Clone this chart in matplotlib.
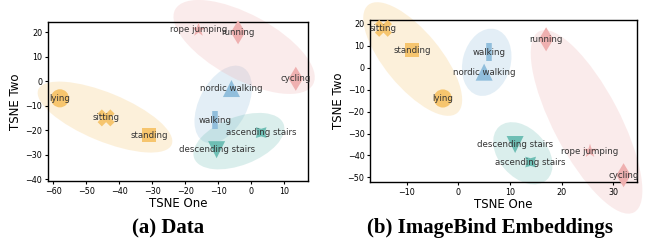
import numpy as np
import matplotlib
matplotlib.use("Agg")
import matplotlib.pyplot as plt
from matplotlib.patches import Ellipse
from matplotlib.transforms import IdentityTransform

# activities, groups and markers (same for both panels)
activities = ["lying", "sitting", "standing", "walking", "nordic walking",
              "ascending stairs", "descending stairs",
              "running", "rope jumping", "cycling"]
groups = ["static", "static", "static", "walk", "walk",
          "stairs", "stairs", "active", "active", "active"]
markers = ["o", "X", "s", "|", "^", (4, 1, 45), "v", "d", "*", "d"]
msizes = [170, 150, 95, 170, 150, 120, 150, 150, 110, 150]

# tsne coordinates
data_x = [-58, -44, -31, -11, -6, 3, -10.5, -4, -16, 13.5]
data_y = [-7, -15, -22, -16, -3, -21, -28, 20, 21, 1]
emb_x = [-3, -14.5, -9, 6, 5, 14, 11, 17, 25.5, 32]
emb_y = [-14, 18, 8, 7, -2, -43, -35, 13, -38, -49]

group_colors = {"static": "#f6c56e", "walk": "#91bedc",
                "stairs": "#6ebeb4", "active": "#efb0b0"}

W, H = 654, 245
fig = plt.figure(figsize=(W / 100, H / 100), dpi=100)


def panel(rect, xs, ys, xlim, ylim, xticks, yticks):
    ax = fig.add_axes(rect)
    ax.set_xlim(*xlim)
    ax.set_ylim(*ylim)
    ax.set_xticks(xticks)
    ax.set_yticks(yticks)
    ax.tick_params(labelsize=5.8, length=2.5, width=0.8, pad=1.5)
    for s in ax.spines.values():
        s.set_linewidth(1.0)
    ax.set_xlabel("TSNE One", fontsize=8.5, labelpad=1)
    ax.set_ylabel("TSNE Two", fontsize=8.5, labelpad=2)

    # cluster ellipses, built in pixel space around each group's points
    pts = ax.transData.transform(np.column_stack([xs, ys]))
    for g, col in group_colors.items():
        idx = [i for i, gg in enumerate(groups) if gg == g]
        p = pts[idx]
        c = p.mean(axis=0)
        d = p - c
        u, sv, vt = np.linalg.svd(d)
        major = vt[0]
        minor = np.array([-major[1], major[0]])
        pm = d @ major
        pn = d @ minor
        w = (pm.max() - pm.min()) + 48
        h = (pn.max() - pn.min()) + 48
        ang = np.degrees(np.arctan2(major[1], major[0]))
        e = Ellipse(c, w, h, angle=ang, transform=IdentityTransform(),
                    facecolor=col, alpha=0.25, edgecolor="none",
                    clip_on=False, zorder=1)
        ax.add_patch(e)

    for i, name in enumerate(activities):
        col = group_colors[groups[i]]
        if markers[i] == "|":
            ax.scatter(xs[i], ys[i], marker="|", s=msizes[i], color=col,
                       linewidths=4, zorder=3, clip_on=False)
        else:
            ax.scatter(xs[i], ys[i], marker=markers[i], s=msizes[i],
                       color=col, edgecolors="none", zorder=3, clip_on=False)
        ax.text(xs[i], ys[i], name, fontsize=6.2, color="#333333",
                ha="center", va="center", zorder=4)
    return ax


ax1 = panel([47.7 / W, 1 - 181 / H, (308 - 47.7) / W, (181 - 22) / H],
            data_x, data_y, (-61.7, 17.2), (-40.8, 24.2),
            range(-60, 11, 10), range(-40, 21, 10))
ax2 = panel([370 / W, 1 - 182 / H, (637 - 370) / W, (182 - 20) / H],
            emb_x, emb_y, (-17.1, 34.6), (-52.1, 21.8),
            range(-10, 31, 10), range(-50, 21, 10))

fig.text(168 / W, 1 - 228 / H, "(a) Data", fontsize=15, fontweight="bold",
         family="Liberation Serif", ha="center", va="center")
fig.text(490 / W, 1 - 228 / H, "(b) ImageBind Embeddings", fontsize=15,
         fontweight="bold", family="Liberation Serif", ha="center", va="center")

fig.savefig("out.png", dpi=100)
